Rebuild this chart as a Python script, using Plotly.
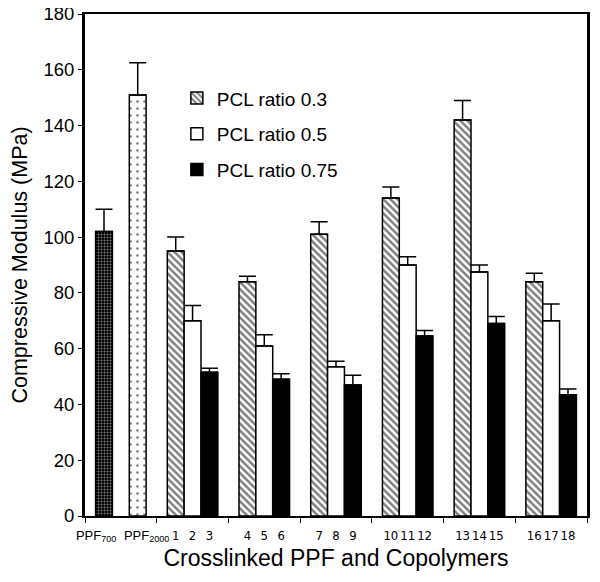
import plotly.graph_objects as go

# ---- data ----
ppf_labels = ["PPF<sub>700</sub>", "PPF<sub>2000</sub>"]
ppf_values = [102, 151]
ppf_err = [8, 11.5]

series_names = ["PCL ratio 0.3", "PCL ratio 0.5", "PCL ratio 0.75"]
groups = [1, 2, 3, 4, 5, 6]
bar_labels = [["1", "4", "7", "10", "13", "16"],
              ["2", "5", "8", "11", "14", "17"],
              ["3", "6", "9", "12", "15", "18"]]
values_03 = [95, 84, 101, 114, 142, 84]
values_05 = [70, 61, 53.5, 90, 87.5, 70]
values_075 = [51.5, 49, 47, 64.5, 69, 43.5]
err_03 = [5, 2, 4.5, 4, 7, 3]
err_05 = [5.5, 4, 2, 3, 2.5, 6]
err_075 = [1.5, 2, 3.5, 2, 2.5, 2]

y_ticks = list(range(0, 181, 20))

# ---- style ----
FONT = "Arial, Liberation Sans, sans-serif"
NARROW = "Liberation Sans Narrow, Arial Narrow, DejaVu Sans Condensed, Liberation Sans, sans-serif"
W = 0.235  # bar width in category units
offsets = [-1.5 * W, -0.5 * W, 0.5 * W]
ppf_label_nudge = [-0.11, 0.125]

fig = go.Figure()

def err(vals):
    return dict(type="data", array=vals, arrayminus=[0] * len(vals), symmetric=False,
                color="black", thickness=1.5, width=8.5)

line = dict(color="black", width=1.5)

# PPF bars in category 0
fig.add_trace(go.Bar(x=[0], y=[ppf_values[0]], width=W, offset=offsets[0], showlegend=False,
                     marker=dict(color="black", line=line,
                                 pattern=dict(shape=".", size=3, solidity=0.35, fgcolor="white", bgcolor="black")),
                     error_y=err([ppf_err[0]])))
fig.add_trace(go.Bar(x=[0], y=[ppf_values[1]], width=W, offset=offsets[2], showlegend=False,
                     marker=dict(color="white", line=line,
                                 pattern=dict(shape=".", size=7, solidity=0.12, fgcolor="black", bgcolor="white")),
                     error_y=err([ppf_err[1]])))

series_vals = [values_03, values_05, values_075]
series_errs = [err_03, err_05, err_075]
markers = [
    dict(color="white", line=line, pattern=dict(shape="\\", size=5, solidity=0.5, fgcolor="black", bgcolor="white")),
    dict(color="white", line=line),
    dict(color="black", line=line),
]
for k in range(3):
    fig.add_trace(go.Bar(x=groups, y=series_vals[k], width=W, offset=offsets[k], name=series_names[k],
                         legendgroup=series_names[k], marker=markers[k], error_y=err(series_errs[k])))

# tick labels under each bar
tickvals = [0 + offsets[0] + W / 2 + ppf_label_nudge[0], 0 + offsets[2] + W / 2 + ppf_label_nudge[1]]
ticktext = ["<span style='font-family:Liberation Sans, Arial; font-size:13px'>%s</span>" % t for t in ppf_labels]
for k in range(3):
    for g, lab in zip(groups, bar_labels[k]):
        tickvals.append(g + offsets[k] + W / 2)
        ticktext.append(lab)

fig.update_layout(
    width=592, height=574,
    margin=dict(l=77, r=13, t=6, b=66),
    paper_bgcolor="white", plot_bgcolor="white",
    barmode="overlay",
    font=dict(family=FONT, color="black"),
    showlegend=True,
    legend=dict(x=0.183, y=0.87, xanchor="left", yanchor="top", bgcolor="rgba(0,0,0,0)",
                font=dict(size=19, family=FONT), tracegroupgap=8, itemwidth=30),
    xaxis=dict(range=[-0.5, 6.5], tickmode="array", tickvals=tickvals, ticktext=ticktext,
               ticks="", tickangle=0, tickfont=dict(size=13, family=NARROW), showgrid=False, zeroline=False,
               automargin=False, ticklabelstandoff=6, ticklabeloverflow="allow",
               showline=True, linecolor="black", linewidth=2, mirror=True,
               minor=dict(tickmode="linear", tick0=-0.5, dtick=1, ticks="outside", ticklen=5,
                          tickcolor="black", tickwidth=1, showgrid=False),
               title=dict(text="Crosslinked PPF and Copolymers", font=dict(size=23, family=FONT), standoff=7)),
    yaxis=dict(range=[0, 180], tickmode="array", tickvals=y_ticks, ticks="outside", ticklen=4,
               tickcolor="black", tickfont=dict(size=18.5, family=FONT), showgrid=False, zeroline=False,
               automargin=False, ticklabelstandoff=0, ticklabeloverflow="allow",
               showline=True, linecolor="black", linewidth=3, mirror=True,
               title=dict(text="Compressive Modulus (MPa)", font=dict(size=21.5, family=FONT), standoff=13)),
)

fig.write_html("out.html")
